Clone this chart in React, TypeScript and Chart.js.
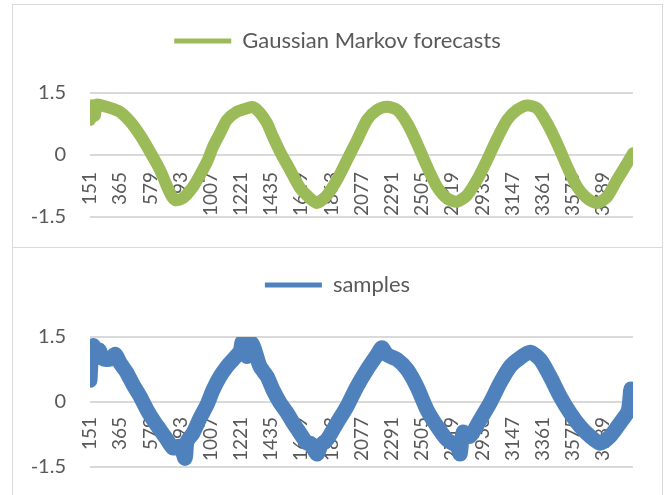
import React, { useEffect, useRef } from "react";
import { Chart, registerables } from "chart.js";

Chart.register(...registerables);

// ---- data ----
const xTicks = [151, 365, 579, 793, 1007, 1221, 1435, 1649, 1863, 2077, 2291, 2505, 2719, 2933, 3147, 3361, 3575, 3789];
const yTicks = [-1.5, 0, 1.5];
const xMin = 151;
const xMax = 4000;

const forecastX = [151, 165, 185, 198, 230, 293, 364, 435, 506, 576, 647, 718, 754, 810, 881, 931, 981, 1023, 1073, 1122, 1193, 1264, 1307, 1356, 1406, 1448, 1498, 1569, 1640, 1712, 1760, 1831, 1902, 1973, 2044, 2115, 2186, 2257, 2328, 2399, 2469, 2540, 2611, 2682, 2753, 2824, 2895, 2966, 3037, 3108, 3178, 3249, 3320, 3391, 3462, 3533, 3604, 3675, 3746, 3817, 3887, 3958, 4000];
const forecastY = [0.85, 1.2, 0.95, 1.22, 1.2, 1.14, 1.04, 0.81, 0.48, 0.08, -0.36, -0.92, -1.09, -1.04, -0.77, -0.48, -0.16, 0.2, 0.53, 0.85, 1.05, 1.13, 1.16, 1.02, 0.77, 0.44, 0.08, -0.36, -0.8, -1.05, -1.16, -0.97, -0.6, -0.12, 0.36, 0.85, 1.09, 1.17, 1.09, 0.77, 0.28, -0.28, -0.77, -1.05, -1.13, -0.97, -0.6, -0.12, 0.4, 0.85, 1.09, 1.2, 1.13, 0.77, 0.28, -0.28, -0.77, -1.05, -1.16, -1.01, -0.6, -0.2, 0.04];

const samplesX = [151, 160, 175, 186, 215, 243, 293, 330, 364, 390, 413, 456, 506, 555, 598, 647, 697, 739, 789, 825, 839, 881, 931, 981, 1023, 1073, 1122, 1165, 1215, 1230, 1264, 1300, 1356, 1406, 1448, 1498, 1548, 1590, 1640, 1690, 1712, 1760, 1790, 1831, 1902, 1973, 2044, 2115, 2186, 2220, 2257, 2328, 2399, 2469, 2540, 2611, 2682, 2753, 2775, 2796, 2845, 2916, 2987, 3058, 3129, 3200, 3271, 3342, 3412, 3483, 3554, 3625, 3696, 3767, 3838, 3909, 3966, 3985, 4000];
const samplesY = [0.5, 1.0, 1.3, 1.02, 1.2, 1.0, 0.99, 1.1, 0.9, 0.78, 0.67, 0.4, 0.13, -0.18, -0.41, -0.64, -0.87, -1.06, -1.02, -1.3, -0.91, -0.72, -0.37, -0.06, 0.28, 0.59, 0.82, 0.98, 1.17, 1.38, 1.05, 1.35, 0.82, 0.59, 0.28, -0.02, -0.25, -0.48, -0.72, -0.95, -0.95, -1.2, -0.99, -0.87, -0.48, -0.1, 0.36, 0.75, 1.09, 1.25, 1.09, 0.98, 0.75, 0.35, -0.18, -0.56, -0.87, -1.02, -1.2, -0.7, -0.79, -0.41, -0.02, 0.44, 0.82, 1.02, 1.15, 0.98, 0.59, 0.13, -0.25, -0.56, -0.79, -0.95, -0.79, -0.48, -0.2, 0.3, -0.2];

const FONT = "Lato, 'Open Sans', sans-serif";
const TEXT = "#595959";
const GRID = "#d9d9d9";

type Cfg = {
  xs: number[];
  ys: number[];
  label: string;
  color: string;
  lineWidth: number;
  legendTop: number;
  areaTop: number;
  padBottom: number;
  tickPad: number;
};

function buildChart(canvas: HTMLCanvasElement, c: Cfg) {
  const data = c.xs.map((x, i) => ({ x, y: c.ys[i] }));
  const legendPad = 10;
  const fontSize = 22;
  const legendBottom = c.legendTop + fontSize + legendPad + 10;
  return new Chart(canvas, {
    type: "line",
    data: {
      datasets: [
        {
          label: c.label,
          data,
          borderColor: c.color,
          backgroundColor: c.color,
          borderWidth: c.lineWidth,
          pointRadius: 0,
          tension: 0.25,
          borderJoinStyle: "round",
          borderCapStyle: "round",
        },
      ],
    },
    options: {
      animation: false,
      responsive: false,
      events: [],
      layout: { padding: { left: 0, right: 0, top: c.legendTop, bottom: c.padBottom } },
      plugins: {
        tooltip: { enabled: false },
        legend: {
          position: "top",
          labels: {
            usePointStyle: true,
            pointStyle: "line",
            pointStyleWidth: 57,
            padding: legendPad,
            color: TEXT,
            font: { family: FONT, size: fontSize },
            generateLabels: (chart: any) => {
              const items = (Chart.defaults.plugins.legend.labels as any).generateLabels(chart);
              return items.map((it: any) => ({ ...it, lineWidth: 5, pointStyle: "line", fontColor: TEXT }));
            },
          },
        },
      },
      scales: {
        x: {
          type: "linear",
          position: { y: 0 } as any,
          min: xMin,
          max: xMax,
          afterBuildTicks: (s: any) => {
            s.ticks = xTicks.map((v) => ({ value: v }));
          },
          afterFit: (s: any) => {
            s.height = 0;
            s.paddingLeft = 0;
            s.paddingRight = 0;
          },
          grid: { display: false, drawTicks: false },
          border: { display: false },
          ticks: {
            autoSkip: false,
            minRotation: 90,
            maxRotation: 90,
            padding: c.tickPad,
            color: TEXT,
            font: { family: FONT, size: 19 },
            callback: (v: any) => String(v),
          },
        },
        xTop: {
          type: "linear",
          position: "top",
          display: true,
          min: xMin,
          max: xMax,
          grid: { display: false, drawTicks: false },
          border: { display: false },
          ticks: { display: false },
          afterFit: (s: any) => {
            s.height = c.areaTop - legendBottom;
          },
        },
        y: {
          type: "linear",
          min: -1.5,
          max: 1.5,
          afterBuildTicks: (s: any) => {
            s.ticks = yTicks.map((v) => ({ value: v }));
          },
          afterFit: (s: any) => {
            s.width = 77;
            s.paddingTop = 0;
            s.paddingBottom = 0;
          },
          grid: { color: GRID, lineWidth: 2, drawTicks: false },
          border: { display: false },
          ticks: {
            padding: 24,
            color: TEXT,
            font: { family: FONT, size: 20 },
            callback: (v: any) => String(v),
          },
        },
        yRight: {
          type: "linear",
          position: "right",
          display: true,
          min: -1.5,
          max: 1.5,
          grid: { display: false, drawTicks: false },
          border: { display: false },
          ticks: { display: false },
          afterFit: (s: any) => {
            s.width = 29;
            s.paddingTop = 0;
            s.paddingBottom = 0;
          },
        },
      },
    } as any,
  });
}

function ChartBox(props: { left: number; top: number; width: number; height: number; cfg: Cfg }) {
  const ref = useRef<HTMLCanvasElement | null>(null);
  useEffect(() => {
    if (!ref.current) return;
    const ch = buildChart(ref.current, props.cfg);
    return () => ch.destroy();
  }, []);
  const innerW = props.width - 2;
  const innerH = props.height - 2;
  return (
    <div
      style={{
        position: "absolute",
        left: props.left,
        top: props.top,
        width: props.width,
        height: props.height,
        border: `1px solid ${GRID}`,
        boxSizing: "border-box",
        background: "#fff",
      }}
    >
      <canvas ref={ref} width={innerW} height={innerH} style={{ display: "block", width: innerW, height: innerH }} />
    </div>
  );
}

export default function App() {
  return (
    <div style={{ position: "absolute", left: 0, top: 0, width: 665, height: 495, overflow: "hidden", background: "#fff" }}>
      <ChartBox
        left={12}
        top={4}
        width={651}
        height={244}
        cfg={{
          xs: forecastX,
          ys: forecastY,
          label: "Gaussian Markov forecasts",
          color: "#9BBB59",
          lineWidth: 12,
          legendTop: 15,
          areaTop: 88,
          padBottom: 30,
          tickPad: 17,
        }}
      />
      <ChartBox
        left={12}
        top={247}
        width={651}
        height={249}
        cfg={{
          xs: samplesX,
          ys: samplesY,
          label: "samples",
          color: "#4F81BD",
          lineWidth: 15,
          legendTop: 16,
          areaTop: 89,
          padBottom: 28,
          tickPad: 15,
        }}
      />
    </div>
  );
}
